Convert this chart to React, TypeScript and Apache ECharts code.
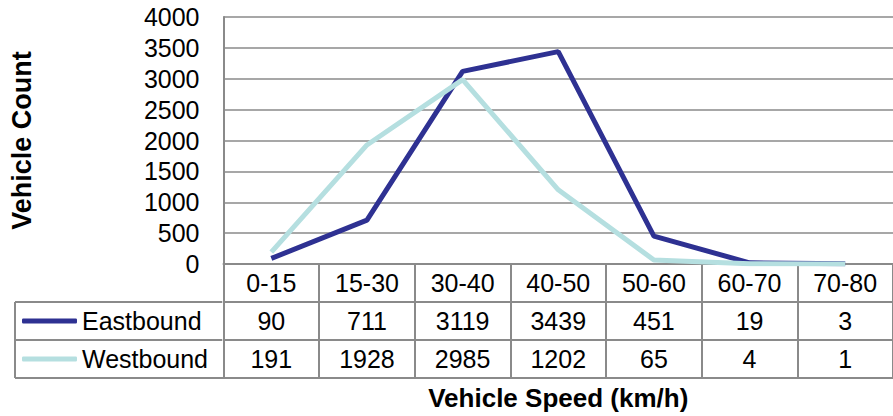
import React, { useEffect, useRef } from "react";
import * as echarts from "echarts";

const categories = ["0-15", "15-30", "30-40", "40-50", "50-60", "60-70", "70-80"];
const eastbound = [90, 711, 3119, 3439, 451, 19, 3];
const westbound = [191, 1928, 2985, 1202, 65, 4, 1];
const seriesNames = ["Eastbound", "Westbound"];
const yAxisTitle = "Vehicle Count";
const xAxisTitle = "Vehicle Speed (km/h)";

const FONT = "'Liberation Sans', Arial, sans-serif";
const GRID_COLOR = "#8a8a8a";
const EAST_COLOR = "#2e3192";
const WEST_COLOR = "#b5dfe0";
const FS = 25;

export default function App() {
  const ref = useRef<HTMLDivElement>(null);
  useEffect(() => {
    if (!ref.current) return;
    const chart = echarts.init(ref.current, null, { renderer: "svg" });
    const rowH = 38;
    const tableAxis = (data: (string | number)[], offset: number, extra: any = {}) => ({
      type: "category",
      data: data.map(String),
      position: "bottom",
      offset,
      boundaryGap: true,
      axisLine: { show: true, lineStyle: { color: GRID_COLOR, width: 2 } },
      axisTick: { show: true, length: rowH, alignWithLabel: false, lineStyle: { color: GRID_COLOR, width: 2 } },
      axisLabel: {
        show: true,
        interval: 0,
        margin: 19,
        verticalAlign: "middle",
        color: "#000",
        fontSize: FS,
        fontFamily: FONT,
      },
      ...extra,
    });
    const option: any = {
      animation: false,
      backgroundColor: "#fff",
      grid: { left: 222, top: 17, bottom: 152, right: -8, containLabel: false },
      xAxis: [
        tableAxis(categories, 0, {
          name: xAxisTitle,
          nameLocation: "middle",
          nameGap: 134,
          nameTextStyle: { fontSize: 26, fontWeight: "bold", fontFamily: FONT, color: "#000", verticalAlign: "middle" },
        }),
        tableAxis(eastbound, rowH),
        tableAxis(westbound, rowH * 2),
      ],
      yAxis: {
        type: "value",
        min: 0,
        max: 4000,
        interval: 500,
        name: yAxisTitle,
        nameLocation: "middle",
        nameGap: 202,
        nameTextStyle: { fontSize: 27, fontWeight: "bold", fontFamily: FONT, color: "#000", verticalAlign: "middle" },
        axisLine: { show: true, lineStyle: { color: GRID_COLOR, width: 2 } },
        axisTick: { show: false },
        axisLabel: { color: "#000", fontSize: FS, fontFamily: FONT, margin: 24, formatter: (v: number) => String(v) },
        splitLine: { show: true, lineStyle: { color: GRID_COLOR, width: 1.5 } },
      },
      legend: [
        {
          data: [seriesNames[0]],
          left: 22,
          top: 321 - 15,
          padding: 0,
          icon: "roundRect",
          itemWidth: 55,
          itemHeight: 5,
          selectedMode: false,
          textStyle: { fontSize: FS, fontFamily: FONT, color: "#000", lineHeight: 30 },
        },
        {
          data: [seriesNames[1]],
          left: 22,
          top: 359 - 15,
          padding: 0,
          icon: "roundRect",
          itemWidth: 55,
          itemHeight: 5,
          selectedMode: false,
          textStyle: { fontSize: FS, fontFamily: FONT, color: "#000", lineHeight: 30 },
        },
      ],
      graphic: [
        { type: "line", shape: { x1: 15, y1: 302, x2: 222, y2: 302 }, style: { stroke: GRID_COLOR, lineWidth: 2 } },
        { type: "line", shape: { x1: 15, y1: 340, x2: 222, y2: 340 }, style: { stroke: GRID_COLOR, lineWidth: 2 } },
        { type: "line", shape: { x1: 15, y1: 378, x2: 893, y2: 378 }, style: { stroke: GRID_COLOR, lineWidth: 2 } },
        { type: "line", shape: { x1: 15, y1: 302, x2: 15, y2: 378 }, style: { stroke: GRID_COLOR, lineWidth: 2 } },
      ],
      series: [
        {
          name: seriesNames[0],
          type: "line",
          data: eastbound,
          showSymbol: false,
          symbol: "none",
          color: EAST_COLOR,
          lineStyle: { color: EAST_COLOR, width: 5 },
          itemStyle: { color: EAST_COLOR },
        },
        {
          name: seriesNames[1],
          type: "line",
          data: westbound,
          showSymbol: false,
          symbol: "none",
          color: WEST_COLOR,
          lineStyle: { color: WEST_COLOR, width: 5 },
          itemStyle: { color: WEST_COLOR },
        },
      ],
    };
    chart.setOption(option);
    return () => chart.dispose();
  }, []);
  return <div ref={ref} style={{ width: 893, height: 416, position: "absolute", left: 0, top: 0 }} />;
}
